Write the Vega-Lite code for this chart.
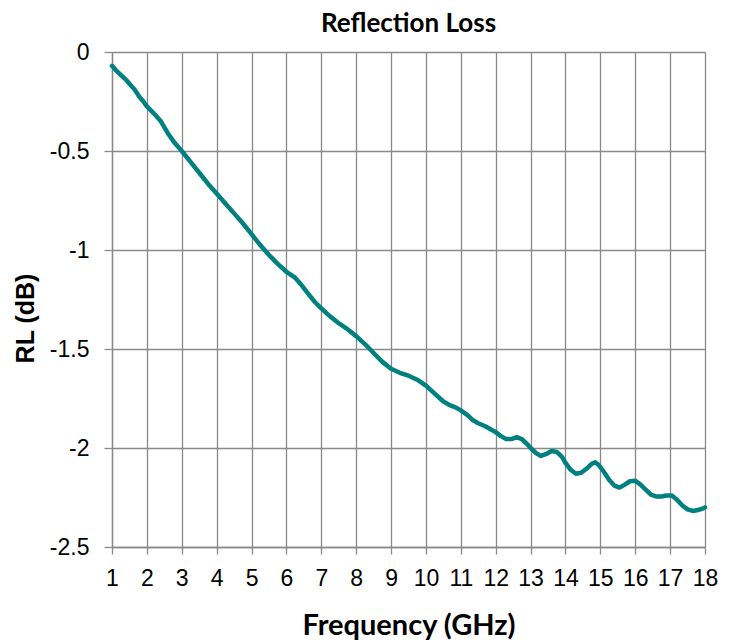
{
  "$schema": "https://vega.github.io/schema/vega-lite/v6.json",
  "autosize": {"type": "none"},
  "width": 593,
  "height": 495,
  "padding": {"left": 112, "top": 52, "right": 30, "bottom": 96},
  "background": "white",
  "title": {
    "text": "Reflection Loss",
    "font": "Lato",
    "fontSize": 26,
    "fontWeight": "bold",
    "color": "#000000",
    "anchor": "middle",
    "frame": "group",
    "baseline": "bottom",
    "offset": 6,
    "dy": 28
  },
  "data": {
    "values": [
      {"f": 1.0, "rl": -0.07}, {"f": 1.1, "rl": -0.09}, {"f": 1.25, "rl": -0.115}, {"f": 1.4, "rl": -0.14},
      {"f": 1.5, "rl": -0.16}, {"f": 1.65, "rl": -0.19}, {"f": 1.8, "rl": -0.23}, {"f": 1.9, "rl": -0.25},
      {"f": 2.0, "rl": -0.275}, {"f": 2.2, "rl": -0.31}, {"f": 2.4, "rl": -0.35}, {"f": 2.6, "rl": -0.41},
      {"f": 2.8, "rl": -0.46}, {"f": 3.0, "rl": -0.5}, {"f": 3.25, "rl": -0.555}, {"f": 3.5, "rl": -0.61},
      {"f": 3.75, "rl": -0.665}, {"f": 4.0, "rl": -0.715}, {"f": 4.25, "rl": -0.765}, {"f": 4.5, "rl": -0.815},
      {"f": 4.75, "rl": -0.865}, {"f": 5.0, "rl": -0.92}, {"f": 5.25, "rl": -0.975}, {"f": 5.5, "rl": -1.025},
      {"f": 5.75, "rl": -1.07}, {"f": 6.0, "rl": -1.11}, {"f": 6.25, "rl": -1.14}, {"f": 6.4, "rl": -1.17},
      {"f": 6.6, "rl": -1.215}, {"f": 6.8, "rl": -1.26}, {"f": 7.0, "rl": -1.295}, {"f": 7.25, "rl": -1.335},
      {"f": 7.5, "rl": -1.37}, {"f": 7.75, "rl": -1.4}, {"f": 8.0, "rl": -1.435}, {"f": 8.25, "rl": -1.475},
      {"f": 8.5, "rl": -1.52}, {"f": 8.75, "rl": -1.565}, {"f": 9.0, "rl": -1.6}, {"f": 9.25, "rl": -1.62},
      {"f": 9.5, "rl": -1.635}, {"f": 9.75, "rl": -1.655}, {"f": 10.0, "rl": -1.685}, {"f": 10.25, "rl": -1.725},
      {"f": 10.5, "rl": -1.765}, {"f": 10.7, "rl": -1.785}, {"f": 10.85, "rl": -1.795}, {"f": 11.0, "rl": -1.81},
      {"f": 11.2, "rl": -1.835}, {"f": 11.35, "rl": -1.86}, {"f": 11.5, "rl": -1.875}, {"f": 11.7, "rl": -1.89},
      {"f": 11.85, "rl": -1.905}, {"f": 12.0, "rl": -1.92}, {"f": 12.15, "rl": -1.94}, {"f": 12.3, "rl": -1.955},
      {"f": 12.45, "rl": -1.955}, {"f": 12.6, "rl": -1.945}, {"f": 12.75, "rl": -1.955}, {"f": 12.9, "rl": -1.98},
      {"f": 13.0, "rl": -2.0}, {"f": 13.15, "rl": -2.025}, {"f": 13.3, "rl": -2.04}, {"f": 13.45, "rl": -2.03},
      {"f": 13.6, "rl": -2.015}, {"f": 13.75, "rl": -2.02}, {"f": 13.9, "rl": -2.045}, {"f": 14.0, "rl": -2.075},
      {"f": 14.15, "rl": -2.11}, {"f": 14.3, "rl": -2.13}, {"f": 14.45, "rl": -2.125}, {"f": 14.6, "rl": -2.105},
      {"f": 14.75, "rl": -2.08}, {"f": 14.85, "rl": -2.072}, {"f": 14.95, "rl": -2.085}, {"f": 15.1, "rl": -2.12},
      {"f": 15.25, "rl": -2.16}, {"f": 15.4, "rl": -2.19}, {"f": 15.55, "rl": -2.2}, {"f": 15.7, "rl": -2.185},
      {"f": 15.85, "rl": -2.168}, {"f": 16.0, "rl": -2.165}, {"f": 16.15, "rl": -2.185}, {"f": 16.3, "rl": -2.21},
      {"f": 16.45, "rl": -2.235}, {"f": 16.6, "rl": -2.245}, {"f": 16.75, "rl": -2.245}, {"f": 16.9, "rl": -2.24},
      {"f": 17.05, "rl": -2.24}, {"f": 17.2, "rl": -2.262}, {"f": 17.35, "rl": -2.29}, {"f": 17.5, "rl": -2.31},
      {"f": 17.65, "rl": -2.318}, {"f": 17.8, "rl": -2.313}, {"f": 17.95, "rl": -2.305}, {"f": 18.0, "rl": -2.3}
    ]
  },
  "mark": {"type": "line", "color": "#008080", "strokeWidth": 4.5, "strokeJoin": "round", "strokeCap": "round", "clip": false},
  "encoding": {
    "x": {
      "field": "f",
      "type": "quantitative",
      "scale": {"domain": [1, 18], "nice": false, "zero": false},
      "axis": {
        "title": "Frequency (GHz)",
        "values": [1,2,3,4,5,6,7,8,9,10,11,12,13,14,15,16,17,18],
        "labelExpr": "'' + datum.value",
        "labelFont": "Liberation Sans",
        "labelFontSize": 23,
        "labelColor": "#000000",
        "labelPadding": 13,
        "labelOverlap": false,
        "labelFlush": false,
        "tickSize": 7,
        "tickColor": "#898989",
        "tickWidth": 1.3,
        "domainColor": "#898989",
        "domainWidth": 1.3,
        "grid": true,
        "gridColor": "#898989",
        "gridWidth": 1.3,
        "titleFont": "Lato",
        "titleFontSize": 29,
        "titleFontWeight": "bold",
        "titleColor": "#000000",
        "titlePadding": 21
      }
    },
    "y": {
      "field": "rl",
      "type": "quantitative",
      "scale": {"domain": [-2.5, 0], "nice": false, "zero": false},
      "axis": {
        "title": "RL (dB)",
        "values": [0, -0.5, -1, -1.5, -2, -2.5],
        "labelExpr": "'' + datum.value",
        "labelFont": "Liberation Sans",
        "labelFontSize": 23,
        "labelColor": "#000000",
        "labelPadding": 15,
        "labelOverlap": false,
        "labelFlush": false,
        "tickSize": 8,
        "tickColor": "#898989",
        "tickWidth": 1.3,
        "domainColor": "#898989",
        "domainWidth": 1.3,
        "grid": true,
        "gridColor": "#898989",
        "gridWidth": 1.3,
        "titleFont": "Liberation Sans",
        "titleFontSize": 25,
        "titleFontWeight": "bold",
        "titleColor": "#000000",
        "titleAngle": 270,
        "titleAlign": "center",
        "titleBaseline": "middle",
        "titleX": -87,
        "titleY": 266
      }
    }
  },
  "config": {"view": {"stroke": null}}
}
